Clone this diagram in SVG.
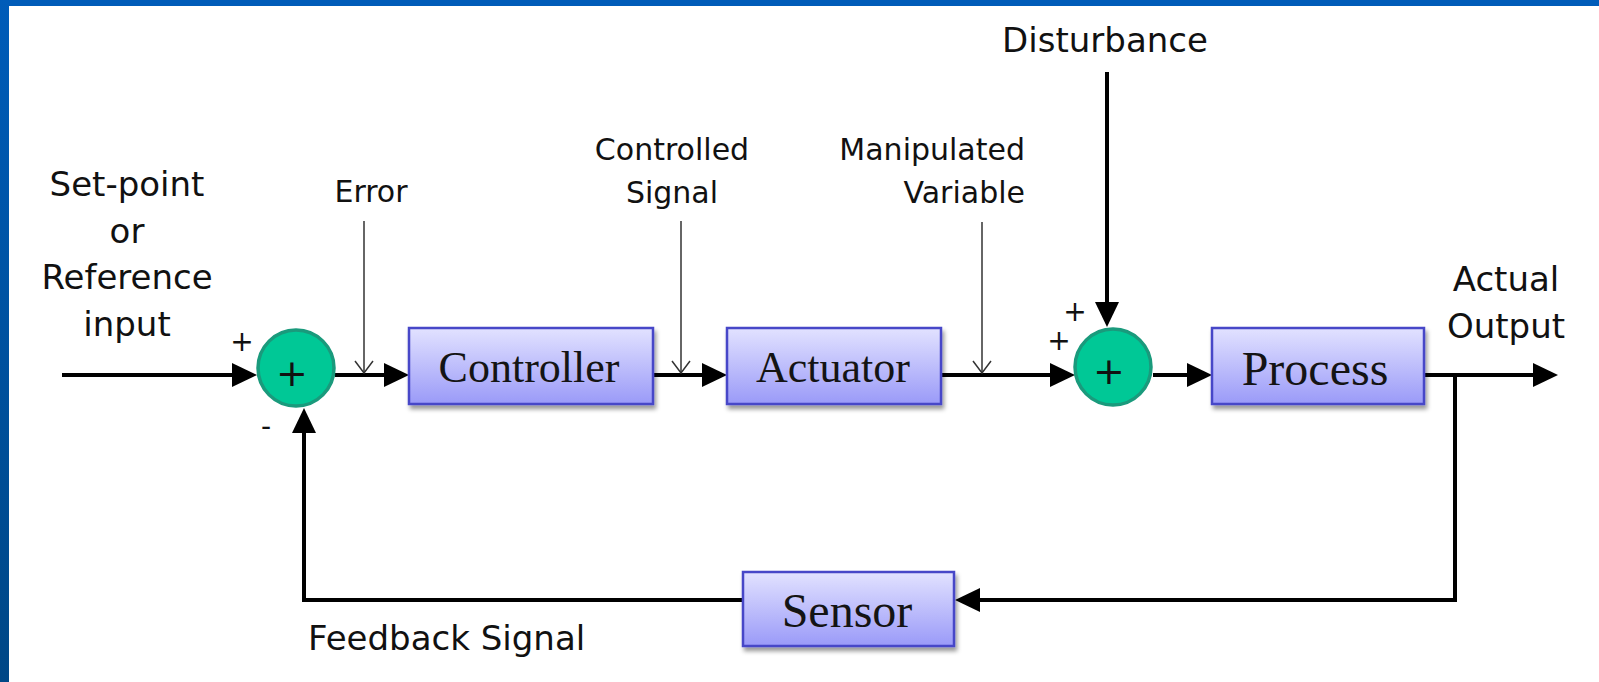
<svg xmlns="http://www.w3.org/2000/svg" width="1599" height="682" viewBox="0 0 1599 682">
<style>
.lbl{font-family:"DejaVu Sans",sans-serif;fill:#111}
.big{font-size:34px}
.sm{font-size:30px}
.sgn{font-family:"DejaVu Sans",sans-serif;font-size:28px;fill:#111;text-anchor:middle}
.blk{fill:url(#boxg);stroke:#4646c8;stroke-width:2.5;filter:url(#sh)}
.btxt{font-family:"Liberation Serif","Times New Roman",serif;fill:#141414;text-anchor:middle}
.sum{fill:#00c896;stroke:#1a9a7c;stroke-width:3.5}
.stxt{font-family:"DejaVu Sans",sans-serif;font-size:38px;fill:#111;text-anchor:middle}
.w{fill:none;stroke:#000;stroke-width:4}
.t{fill:none;stroke:#333;stroke-width:1.5}
</style>
<defs>
<linearGradient id="boxg" x1="0" y1="0" x2="0" y2="1">
<stop offset="0" stop-color="#e2e2ff"/>
<stop offset="1" stop-color="#9a9af8"/>
</linearGradient>
<linearGradient id="edge" x1="0" y1="0" x2="0" y2="1">
<stop offset="0" stop-color="#005cb9"/>
<stop offset="1" stop-color="#004786"/>
</linearGradient>
<filter id="sh" x="-10%" y="-10%" width="130%" height="140%">
<feDropShadow dx="2" dy="4" stdDeviation="2" flood-color="#000" flood-opacity="0.4"/>
</filter>
<marker id="ah" markerUnits="userSpaceOnUse" viewBox="0 0 25 24" markerWidth="25" markerHeight="24" refX="15" refY="12" orient="auto">
<path d="M0,0 L25,12 L0,24 z" fill="#000"/>
</marker>
<marker id="vee" markerUnits="userSpaceOnUse" viewBox="0 0 14 20" markerWidth="14" markerHeight="20" refX="13" refY="10" orient="auto">
<path d="M1,1 L13,10 L1,19" fill="none" stroke="#333" stroke-width="1.5"/>
</marker>
</defs>
<rect x="0" y="0" width="1599" height="682" fill="#fff"/>
<rect x="0" y="0" width="1599" height="6" fill="#005cb9"/>
<rect x="0" y="0" width="9" height="682" fill="url(#edge)"/>

<g id="connectors">
<path class="w" d="M62,375 H247" marker-end="url(#ah)"/>
<path class="w" d="M335,375 H399" marker-end="url(#ah)"/>
<path class="w" d="M653,375 H717" marker-end="url(#ah)"/>
<path class="w" d="M941,375 H1065" marker-end="url(#ah)"/>
<path class="w" d="M1153,375 H1202" marker-end="url(#ah)"/>
<path class="w" d="M1424,375 H1548" marker-end="url(#ah)"/>
<path class="w" d="M1107,72 V317" marker-end="url(#ah)"/>
<path class="w" d="M1455,375 V600 H965" marker-end="url(#ah)"/>
<path class="w" d="M743,600 H304 V418" marker-end="url(#ah)"/>
<path class="t" d="M364,221 V373" marker-end="url(#vee)"/>
<path class="t" d="M681,221 V373" marker-end="url(#vee)"/>
<path class="t" d="M982,222 V373" marker-end="url(#vee)"/>
</g>

<g id="sum1">
<circle class="sum" cx="296" cy="368" r="38"/>
<text class="stxt" x="292" y="386">+</text>
</g>
<g id="sum2">
<circle class="sum" cx="1113" cy="367" r="38"/>
<text class="stxt" x="1109" y="384">+</text>
</g>
<g id="controller">
<rect class="blk" x="409" y="328" width="244" height="76"/>
<text class="btxt" x="529" y="382" font-size="44">Controller</text>
</g>
<g id="actuator">
<rect class="blk" x="727" y="328" width="214" height="76"/>
<text class="btxt" x="833" y="382" font-size="44">Actuator</text>
</g>
<g id="process">
<rect class="blk" x="1212" y="328" width="212" height="76"/>
<text class="btxt" x="1315" y="385" font-size="48">Process</text>
</g>
<g id="sensor">
<rect class="blk" x="743" y="572" width="211" height="74"/>
<text class="btxt" x="847" y="627" font-size="48">Sensor</text>
</g>

<g id="labels">
<text class="lbl big" text-anchor="middle"><tspan x="127" y="196">Set-point</tspan><tspan x="127" y="243">or</tspan><tspan x="127" y="289">Reference</tspan><tspan x="127" y="336">input</tspan></text>
<text class="lbl sm" text-anchor="middle" x="371" y="202">Error</text>
<text class="lbl sm" text-anchor="middle"><tspan x="672" y="160">Controlled</tspan><tspan x="672" y="203">Signal</tspan></text>
<text class="lbl sm" text-anchor="end"><tspan x="1025" y="160">Manipulated</tspan><tspan x="1025" y="203">Variable</tspan></text>
<text class="lbl big" text-anchor="middle" x="1105" y="52">Disturbance</text>
<text class="lbl big" text-anchor="middle"><tspan x="1506" y="291">Actual</tspan><tspan x="1506" y="338">Output</tspan></text>
<text class="lbl big" x="308" y="650">Feedback Signal</text>
<text class="sgn" x="242" y="351">+</text>
<text class="sgn" x="266" y="436">-</text>
<text class="sgn" x="1075" y="321">+</text>
<text class="sgn" x="1059" y="350">+</text>
</g>
</svg>
